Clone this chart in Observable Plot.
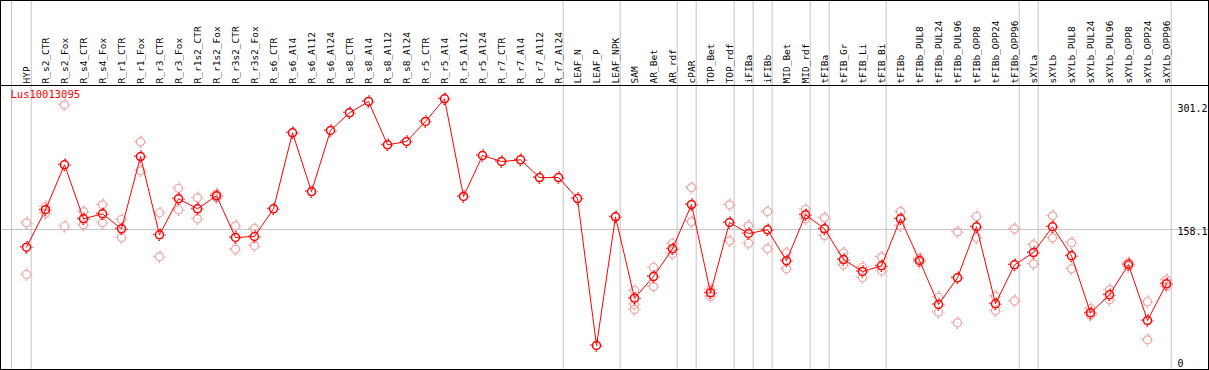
<!DOCTYPE html>
<html><head><meta charset="utf-8">
<script src="https://cdn.jsdelivr.net/npm/d3@7"></script>
<script src="https://cdn.jsdelivr.net/npm/@observablehq/plot@0.6"></script>
<style>
html,body{margin:0;padding:0;background:#fff;}
#chart{position:absolute;left:0;top:0;width:1207px;height:368px;border:1px solid #000;}
#chart svg{display:block;}
</style></head><body><div id="chart"></div>
<script>
const categories = ["HYP","R_s2_CTR","R_s2_Fox","R_s4_CTR","R_s4_Fox","R_r1_CTR","R_r1_Fox","R_r3_CTR","R_r3_Fox","R_r1s2_CTR","R_r1s2_Fox","R_r3s2_CTR","R_r3s2_Fox","R_s6_CTR","R_s6_Al4","R_s6_Al12","R_s6_Al24","R_s8_CTR","R_s8_Al4","R_s8_Al12","R_s8_Al24","R_r5_CTR","R_r5_Al4","R_r5_Al12","R_r5_Al24","R_r7_CTR","R_r7_Al4","R_r7_Al12","R_r7_Al24","LEAF_N","LEAF_P","LEAF_NPK","SAM","AR_Bet","AR_rdf","cPAR","TOP_Bet","TOP_rdf","iFIBa","iFIBb","MID_Bet","MID_rdf","tFIBa","tFIB_Gr","tFIB_Li","tFIB_Bi","tFIBb","tFIBb_PUL8","tFIBb_PUL24","tFIBb_PUL96","tFIBb_OPP8","tFIBb_OPP24","tFIBb_OPP96","sXYLa","sXYLb","sXYLb_PUL8","sXYLb_PUL24","sXYLb_PUL96","sXYLb_OPP8","sXYLb_OPP24","sXYLb_OPP96"];

const means = [138.1,180.4,231.2,170.2,175.8,158.9,240.5,152.1,192.8,181.5,196.2,149.1,150.2,
  181.5,267.3,201.0,269.9,289.9,302.7,253.8,257.5,280.1,305.7,195.4,241.7,234.9,236.8,216.8,216.8,
  193.1,27.1,172.4,
  80.5,105.0,136.3,186.3,86.6,166.0,153.6,157.8,122.8,174.7,158.9,124.2,110.7,117.1,
  170.2,123.1,73.4,103.6,161.2,74.2,118.2,
  132.1,161.2,128.4,64.0,84.4,118.6,55.3,96.8];

const rep1 = [165.7,184.1,298.9,178.4,186.0,169.4,257.1,177.0,204.7,193.9,198.4,162.3,159.2,
  null,null,null,null,null,null,null,null,null,null,null,null,null,null,null,null,null,null,null,
  89.2,115.2,142.3,205.5,90.3,186.0,162.3,178.4,131.8,180.7,171.3,131.8,115.5,127.0,
  178.4,125.4,81.6,155.5,172.8,82.8,158.9,
  140.8,173.6,143.1,68.9,90.0,120.8,76.5,101.3];

const rep2 = [107.3,176.5,161.8,163.4,165.7,149.1,224.4,127.3,180.4,170.2,193.9,135.9,139.7,
  null,null,null,null,null,null,null,null,null,null,null,null,null,null,null,null,null,null,null,
  67.8,93.7,130.7,166.8,82.4,145.3,142.6,136.3,113.7,170.2,151.3,118.2,103.6,111.5,
  162.3,120.8,64.7,52.7,148.7,66.3,77.6,
  119.4,148.7,113.7,61.3,78.7,116.3,33.5,93.7];

const rep3 = [null,null,null,null,null,null,null,null,null,null,null,null,null,
  null,null,null,null,null,null,null,null,null,null,null,null,null,null,null,null,null,null,null,
  73.4,null,null,null,null,null,null,null,null,null,null,null,null,null,
  null,null,null,null,null,null,null,
  null,null,null,null,null,null,null,null];

const groupEnds = ["HYP","R_r7_Al24","LEAF_NPK","AR_rdf","cPAR","TOP_rdf","iFIBa","iFIBb","MID_rdf","tFIBa","tFIB_Bi","tFIBb_OPP96","sXYLa","sXYLb_OPP96"];
const groupStart = ["HYP"];
const geneId = "Lus10013095";
const yTicks = [301.2, 158.1, 0];
const yGrid = [158.1];

const rows = categories.map((c, i) => ({cat: c, mean: means[i]}));
const reps = [];
categories.forEach((c, i) => {
  for (const r of [rep1, rep2, rep3]) if (r[i] != null) reps.push({cat: c, v: r[i]});
});

const RED = "#ff0000";
const PINK = "#f0a0a0";
const GRID = "#c4c4c4";
const FONT = "DejaVu Sans Mono";

function marker(data, y, color, sw) {
  return [
    Plot.dot(data, {x: "cat", y, r: 4, stroke: color, strokeWidth: sw, fill: "none"}),
    Plot.dot(data, {x: "cat", y, r: 5.6, stroke: color, strokeWidth: 1.4, fill: "none",
      strokeDasharray: "1.6,7.2", strokeDashoffset: 0.8})
  ];
}

const chart = Plot.plot({
  width: 1207,
  height: 368,
  marginTop: 84,
  marginBottom: 0,
  marginLeft: 0,
  marginRight: 0,
  style: {fontFamily: FONT, fontSize: "9.5px", background: "#fff", overflow: "visible"},
  x: {type: "point", domain: categories, range: [25, 1165], padding: 0},
  y: {domain: [0, 301.2], range: [368, 101.3], axis: null},
  marks: [
    Plot.ruleY(yGrid, {y: d => d, stroke: GRID, strokeWidth: 1}),
    Plot.ruleX(groupEnds, {x: d => d, dx: 4.7, stroke: GRID, strokeWidth: 1, insetTop: -84}),
    Plot.ruleX(groupStart, {x: d => d, dx: -15, stroke: GRID, strokeWidth: 1, insetTop: -84}),
    Plot.frame({anchor: "top", stroke: "#000"}),
    Plot.axisX({anchor: "top", tickSize: 0, tickPadding: 2, tickRotate: -90,
      textAnchor: "start", lineAnchor: "middle", fontSize: 9.5, fontFamily: FONT, fill: "#000", label: null}),
    Plot.text([yTicks[0]], {y: d => d, text: d => String(d), frameAnchor: "right", dx: -31, dy: 2,
      textAnchor: "start", lineAnchor: "top", fontSize: 10, fontFamily: FONT, fill: "#000"}),
    Plot.text([yTicks[1]], {y: d => d, text: d => String(d), frameAnchor: "right", dx: -31, dy: -1.3,
      textAnchor: "start", lineAnchor: "top", fontSize: 10, fontFamily: FONT, fill: "#000"}),
    Plot.text([yTicks[2]], {y: d => d, text: d => String(d), frameAnchor: "right", dx: -31, dy: -3,
      textAnchor: "start", lineAnchor: "bottom", fontSize: 10, fontFamily: FONT, fill: "#000"}),
    Plot.text([geneId], {frameAnchor: "top-left", dx: 9, dy: 5, lineAnchor: "top",
      fill: RED, fontSize: 10.5, fontFamily: FONT}),
    ...marker(reps, "v", PINK, 1.2),
    Plot.line(rows, {x: "cat", y: "mean", stroke: RED, strokeWidth: 1}),
    ...marker(rows, "mean", RED, 1.5)
  ]
});
document.getElementById("chart").appendChild(chart);
</script></body></html>
